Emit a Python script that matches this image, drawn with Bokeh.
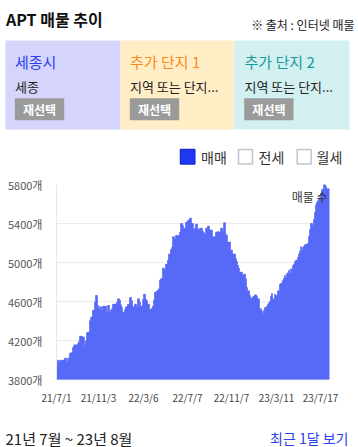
from bokeh.plotting import figure
from bokeh.layouts import column
from bokeh.models import Range1d, FixedTicker, Label
from bokeh.core.properties import value
from bokeh.embed import file_html
from bokeh.resources import INLINE

FONT = "Noto Sans CJK KR"

# listing counts (매매), one bar per period, 21/7/1 .. 23/8
listings = [
    3937, 3998, 3998, 3978, 3998, 3998, 3998, 3998, 4019, 4019,
    3978, 4019, 4019, 4067, 4074, 4074, 4128, 4149, 4156, 4156,
    4149, 4169, 4190, 4244, 4244, 4238, 4238, 4231, 4149, 4197,
    4279, 4286, 4286, 4402, 4436, 4443, 4511, 4511, 4593, 4662,
    4662, 4559, 4518, 4545, 4545, 4511, 4552, 4552, 4552, 4552,
    4491, 4559, 4559, 4491, 4511, 4525, 4573, 4573, 4573, 4573,
    4593, 4627, 4627, 4614, 4566, 4539, 4491, 4491, 4518, 4545,
    4545, 4573, 4573, 4641, 4641, 4607, 4545, 4545, 4573, 4573,
    4545, 4627, 4627, 4593, 4552, 4552, 4620, 4675, 4675, 4620,
    4607, 4573, 4573, 4518, 4518, 4532, 4552, 4614, 4696, 4696,
    4709, 4716, 4730, 4819, 4833, 4833, 4942, 4942, 4921, 4983,
    4983, 5024, 5086, 5086, 5133, 5154, 5263, 5263, 5236, 5277,
    5277, 5277, 5277, 5311, 5400, 5400, 5380, 5352, 5352, 5414,
    5414, 5434, 5434, 5455, 5455, 5400, 5400, 5339, 5352, 5393,
    5393, 5345, 5332, 5352, 5352, 5352, 5318, 5304, 5284, 5352,
    5352, 5373, 5373, 5332, 5332, 5332, 5263, 5263, 5263, 5311,
    5311, 5318, 5311, 5311, 5352, 5352, 5318, 5407, 5407, 5291,
    5277, 5209, 5209, 5209, 5127, 5127, 5086, 5086, 5086, 5038,
    5010, 4969, 4942, 4901, 4901, 4901, 4867, 4880, 4880, 4833,
    4744, 4709, 4709, 4662, 4634, 4634, 4648, 4655, 4668, 4668,
    4655, 4627, 4627, 4525, 4525, 4500, 4477, 4511, 4539, 4539,
    4552, 4573, 4586, 4600, 4655, 4682, 4627, 4627, 4675, 4662,
    4662, 4709, 4709, 4778, 4785, 4792, 4819, 4839, 4867, 4846,
    4887, 4894, 4921, 4887, 4935, 4921, 4969, 4983, 5010, 5024,
    5024, 5051, 5086, 5113, 5161, 5127, 5154, 5168, 5181, 5188,
    5188, 5195, 5270, 5339, 5400, 5400, 5380, 5441, 5516, 5592,
    5619, 5633, 5653, 5667, 5708, 5749, 5749, 5797, 5804, 5783,
    5756, 5756, 5756,
]
date_labels = ["21/7/1", "21/11/3", "22/3/6", "22/7/7", "22/11/7", "23/3/11", "23/7/17"]
date_index = [0, 42, 87, 131, 175, 220, 264]
y_ticks = [3800, 4200, 4600, 5000, 5400, 5800]

title_text = "APT 매물 추이"
source_text = "※ 출처 : 인터넷 매물"
box_titles = ["세종시", "추가 단지 1", "추가 단지 2"]
box_subs = ["세종", "지역 또는 단지...", "지역 또는 단지..."]
legend_items = ["매매", "전세", "월세"]
period_text = "21년 7월 ~ 23년 8월"
recent_text = "최근 1달 보기"

W = 358
BAR = "#5163f7"


def blank(h, y0, y1):
    f = figure(width=W, height=h, x_range=Range1d(0, W), y_range=Range1d(y1, y0),
               output_backend="svg", toolbar_location=None,
               x_axis_location=None, y_axis_location=None, min_border=0)
    f.xgrid.visible = False
    f.ygrid.visible = False
    f.outline_line_color = None
    f.background_fill_color = "white"
    f.border_fill_color = "white"
    f.frame_align = False
    return f


# ---------------- header ----------------
hd = blank(172, 0, 172)
hd.text(x=[5.5], y=[18.5], text=[title_text], text_font=value(FONT), text_font_size="16px",
        text_font_style="bold", text_color="#111111", text_baseline="middle", text_align="left")
hd.text(x=[354], y=[23.5], text=[source_text], text_font=value(FONT), text_font_size="12px",
        text_color="#222222", text_baseline="middle", text_align="right")

box_left = [5, 120, 234]
box_right = [120, 234, 349]
hd.quad(left=box_left, right=box_right, top=[40] * 3, bottom=[129] * 3,
        fill_color=["#d5d5fb", "#ffedc6", "#d2f0f0"], line_color=None)
tx = [14.5, 129.5, 244]
hd.text(x=tx, y=[61, 61, 61], text=box_titles, text_font=value(FONT), text_font_size="15px",
        text_color=["#2f40f0", "#fb8a1c", "#149c9c"], text_baseline="middle", text_align="left")
hd.text(x=tx, y=[85.5, 85.5, 85.5], text=box_subs, text_font=value(FONT), text_font_size="13px",
        text_color="#222222", text_baseline="middle", text_align="left")
hd.quad(left=[14.3, 129.3, 243.7], right=[63.7, 178.7, 293], top=[97.7] * 3, bottom=[119.7] * 3,
        fill_color="#9b9b9b", line_color=None)
hd.text(x=[39, 154, 268.4], y=[109, 109, 109], text=["재선택"] * 3, text_font=value(FONT),
        text_font_size="12px", text_font_style="bold", text_color="white",
        text_baseline="middle", text_align="center")

# legend checkboxes
hd.quad(left=[180, 238, 296.7], right=[194.3, 252, 310.7], top=[149, 149, 149], bottom=[163.5, 163.5, 163.5],
        fill_color=["#1f38f5", "white", "white"], line_color=["#1a2fd0", "#c3c3cb", "#c3c3cb"],
        line_width=1.5)
hd.text(x=[200.5, 258, 316], y=[156.5] * 3, text=legend_items, text_font=value(FONT),
        text_font_size="14px", text_color="#333333", text_baseline="middle", text_align="left")

# ---------------- chart ----------------
n = len(listings)
p = figure(width=W, height=238, x_range=Range1d(0, n), y_range=Range1d(y_ticks[0], y_ticks[-1]),
           output_backend="svg", toolbar_location=None,
           min_border_left=56, min_border_right=29, min_border_top=12, min_border_bottom=31)
p.outline_line_color = None
p.background_fill_color = "white"
p.border_fill_color = "white"
p.frame_align = False

p.vbar(x=[i + 0.5 for i in range(n)], width=1, top=listings, bottom=y_ticks[0],
       fill_color=BAR, line_color=BAR, line_width=0.6)

yt = FixedTicker(ticks=y_ticks)
p.yaxis.ticker = yt
p.ygrid.ticker = yt
p.yaxis.major_label_overrides = {t: f"{t}개" for t in y_ticks}
p.yaxis.major_label_text_font = FONT
p.yaxis.major_label_text_font_size = "11px"
p.yaxis.major_label_text_color = "#555555"
p.yaxis.axis_line_color = "#e8e8e8"
p.yaxis.major_tick_line_color = None
p.yaxis.minor_tick_line_color = None
p.yaxis.major_tick_out = 0
p.yaxis.major_tick_in = 0
p.yaxis.major_label_standoff = 14

xt = FixedTicker(ticks=date_index)
p.xaxis.ticker = xt
p.xaxis.major_label_overrides = {i: s for i, s in zip(date_index, date_labels)}
p.xaxis.major_label_text_font = FONT
p.xaxis.major_label_text_font_size = "10px"
p.xaxis.major_label_text_color = "#444444"
p.xaxis.axis_line_color = None
p.xaxis.major_tick_line_color = None
p.xaxis.minor_tick_line_color = None
p.xaxis.major_tick_out = 0
p.xaxis.major_tick_in = 0
p.xaxis.major_label_standoff = 10

p.xgrid.visible = False
p.ygrid.grid_line_color = "#ebebeb"
p.ygrid.grid_line_width = 1

p.add_layout(Label(x=n - 2, y=5681, text="매물 수", text_align="right", text_baseline="middle",
                   text_font=FONT, text_font_size="12px", text_color="#333333"))

# ---------------- footer ----------------
ft = blank(37, 410, 447)
ft.text(x=[5], y=[437.5], text=[period_text], text_font=value(FONT), text_font_size="15px",
        text_color="#222222", text_baseline="middle", text_align="left")
ft.text(x=[348], y=[437.5], text=[recent_text], text_font=value(FONT), text_font_size="14px",
        text_color="#2a42f0", text_baseline="middle", text_align="right")

layout = column(hd, p, ft, spacing=0, margin=(0, 0, 0, 0))

open("out.html", "w").write(file_html(layout, INLINE))
